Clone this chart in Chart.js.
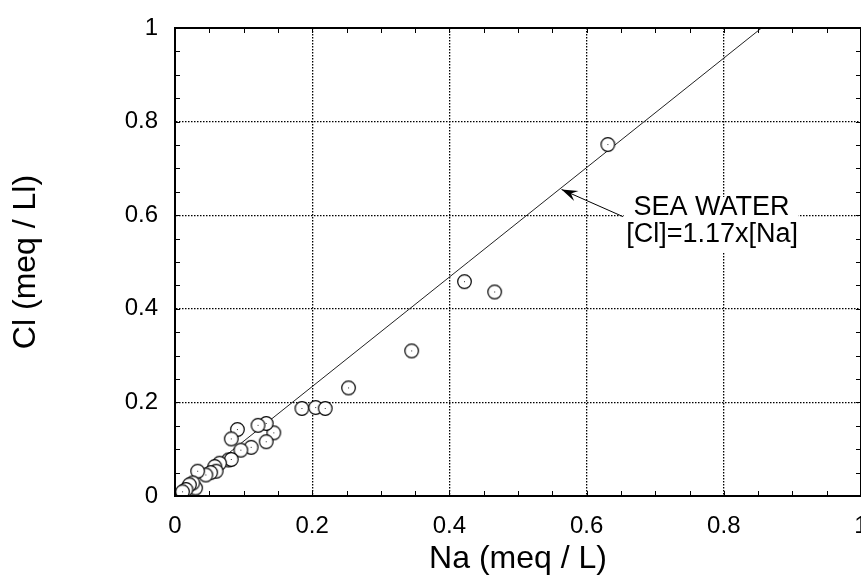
<!DOCTYPE html>
<html>
<head>
<meta charset="utf-8">
<title>Cl vs Na</title>
<script src="https://cdn.jsdelivr.net/npm/chart.js@4.4.1/dist/chart.umd.min.js"></script>
<style>
  html, body { margin: 0; padding: 0; background: #fff; overflow: hidden; }
  #wrap { width: 869px; height: 578px; }
</style>
</head>
<body>
<div id="wrap"><canvas id="clChart"></canvas></div>
<script>
// measured samples, Na vs Cl (meq/L)
const naValues = [0.631, 0.422, 0.466, 0.345, 0.253, 0.185, 0.205, 0.219,
    0.144, 0.133, 0.121, 0.133, 0.091, 0.082, 0.111, 0.096, 0.078, 0.082,
    0.065, 0.058, 0.060, 0.052, 0.045, 0.033, 0.030, 0.026, 0.021, 0.016, 0.011];
const clValues = [0.751, 0.458, 0.436, 0.310, 0.231, 0.187, 0.189, 0.187,
    0.135, 0.155, 0.151, 0.116, 0.142, 0.122, 0.104, 0.098, 0.077, 0.078,
    0.070, 0.063, 0.053, 0.050, 0.045, 0.053, 0.017, 0.028, 0.024, 0.014, 0.009];

// sea water reference line end points
const seaLineNa = [0, 0.855];
const seaLineCl = [0, 1.0];

const tickValues = [0, 0.2, 0.4, 0.6, 0.8, 1];
const tickLabels = ['0', '0.2', '0.4', '0.6', '0.8', '1'];
const seaLabel = ['SEA WATER', '[Cl]=1.17x[Na]'];

// open circle marker with a tiny centre dot
function makeMarker() {
    const c = document.createElement('canvas');
    c.width = 17; c.height = 17;
    const g = c.getContext('2d');
    g.beginPath();
    g.arc(8.5, 8.5, 6.8, 0, Math.PI * 2);
    g.fillStyle = '#fff';
    g.fill();
    g.lineWidth = 1.2;
    g.strokeStyle = '#000';
    g.stroke();
    g.fillStyle = '#333';
    g.fillRect(8, 8, 1, 1);
    return c;
}

// frame, inward minor ticks and the sea water note
const extrasPlugin = {
    id: 'extras',
    afterDatasetsDraw(chart) {
        const {ctx, scales: {x, y}} = chart;
        ctx.save();
        // white box behind the note
        ctx.fillStyle = '#fff';
        ctx.fillRect(x.getPixelForValue(0.654), y.getPixelForValue(0.639),
            x.getPixelForValue(0.909) - x.getPixelForValue(0.654),
            y.getPixelForValue(0.521) - y.getPixelForValue(0.639));
        ctx.fillStyle = '#000';
        ctx.font = '27px "Liberation Sans", Arial, sans-serif';
        ctx.textAlign = 'center';
        ctx.textBaseline = 'middle';
        ctx.fillText(seaLabel[0], x.getPixelForValue(0.782), y.getPixelForValue(0.6165));
        ctx.fillText(seaLabel[1], x.getPixelForValue(0.783), y.getPixelForValue(0.558));

        // arrow
        const x0 = x.getPixelForValue(0.653), y0 = y.getPixelForValue(0.597);
        const x1 = x.getPixelForValue(0.5635), y1 = y.getPixelForValue(0.655);
        ctx.strokeStyle = '#000';
        ctx.lineWidth = 1;
        ctx.beginPath();
        ctx.moveTo(x0, y0);
        ctx.lineTo(x1, y1);
        ctx.stroke();
        const ang = Math.atan2(y1 - y0, x1 - x0);
        const len = 17;
        ctx.beginPath();
        ctx.moveTo(x1, y1);
        ctx.lineTo(x1 - len * Math.cos(ang - 0.32), y1 - len * Math.sin(ang - 0.32));
        ctx.lineTo(x1 - len * 0.6 * Math.cos(ang), y1 - len * 0.6 * Math.sin(ang));
        ctx.lineTo(x1 - len * Math.cos(ang + 0.32), y1 - len * Math.sin(ang + 0.32));
        ctx.closePath();
        ctx.fill();
        ctx.restore();
    },
    afterDraw(chart) {
        const {ctx, chartArea: a, scales: {x, y}} = chart;
        ctx.save();
        ctx.strokeStyle = '#000';
        ctx.lineWidth = 1;
        ctx.beginPath();
        for (let v = 0.05; v < 1; v += 0.05) {
            const px = Math.round(x.getPixelForValue(v)) + 0.5;
            const py = Math.round(y.getPixelForValue(v)) + 0.5;
            ctx.moveTo(px, a.bottom); ctx.lineTo(px, a.bottom - 5);
            ctx.moveTo(px, a.top); ctx.lineTo(px, a.top + 5);
            ctx.moveTo(a.left, py); ctx.lineTo(a.left + 5, py);
            ctx.moveTo(a.right, py); ctx.lineTo(a.right - 5, py);
        }
        ctx.stroke();
        ctx.lineWidth = 2;
        ctx.strokeRect(a.left, a.top, a.right - a.left, a.bottom - a.top);
        ctx.restore();
    }
};

const tickFont = { family: '"Liberation Sans", Arial, sans-serif', size: 24 };
const titleFont = { family: '"Liberation Sans", Arial, sans-serif', size: 32 };

new Chart(document.getElementById('clChart'), {
    type: 'scatter',
    data: {
        datasets: [{
            label: 'Samples',
            data: naValues.map((v, i) => ({ x: v, y: clValues[i] })),
            pointStyle: makeMarker(),
            pointRadius: 7,
            order: 1
        }, {
            type: 'line',
            label: 'Sea water',
            data: seaLineNa.map((v, i) => ({ x: v, y: seaLineCl[i] })),
            borderColor: '#222',
            borderWidth: 1,
            pointRadius: 0,
            fill: false,
            order: 2
        }]
    },
    options: {
        responsive: true,
        maintainAspectRatio: false,
        animation: false,
        layout: { padding: { top: 28, right: 1, left: 0, bottom: 0 } },
        plugins: { legend: { display: false }, tooltip: { enabled: false } },
        scales: {
            x: {
                type: 'linear',
                min: 0, max: 1,
                afterBuildTicks: s => { s.ticks = tickValues.map(v => ({ value: v })); },
                afterFit: s => { s.height = 82; s.paddingLeft = 0; s.paddingRight = 0; },
                grid: { color: '#000', lineWidth: 1.3, drawTicks: false },
                border: { display: true, color: '#000', width: 2, dash: [1.5, 1.5] },
                ticks: { color: '#000', font: tickFont, padding: 16, maxRotation: 0,
                    callback: (v, i) => tickLabels[i] },
                title: { display: true, text: 'Na (meq / L)', color: '#000', font: titleFont,
                    padding: { top: 0, bottom: 0 } }
            },
            y: {
                type: 'linear',
                min: 0, max: 1,
                afterBuildTicks: s => { s.ticks = tickValues.map(v => ({ value: v })); },
                afterFit: s => { s.width = 175; s.paddingTop = 0; s.paddingBottom = 0; },
                grid: { color: '#000', lineWidth: 1.3, drawTicks: false },
                border: { display: true, color: '#000', width: 2, dash: [1.5, 1.5] },
                ticks: { color: '#000', font: tickFont, padding: 17,
                    callback: (v, i) => tickLabels[i] },
                title: { display: true, text: 'Cl (meq / Ll)', color: '#000', font: titleFont,
                    padding: { top: 7, bottom: 0 } }
            }
        }
    },
    plugins: [extrasPlugin]
});
</script>
</body>
</html>
